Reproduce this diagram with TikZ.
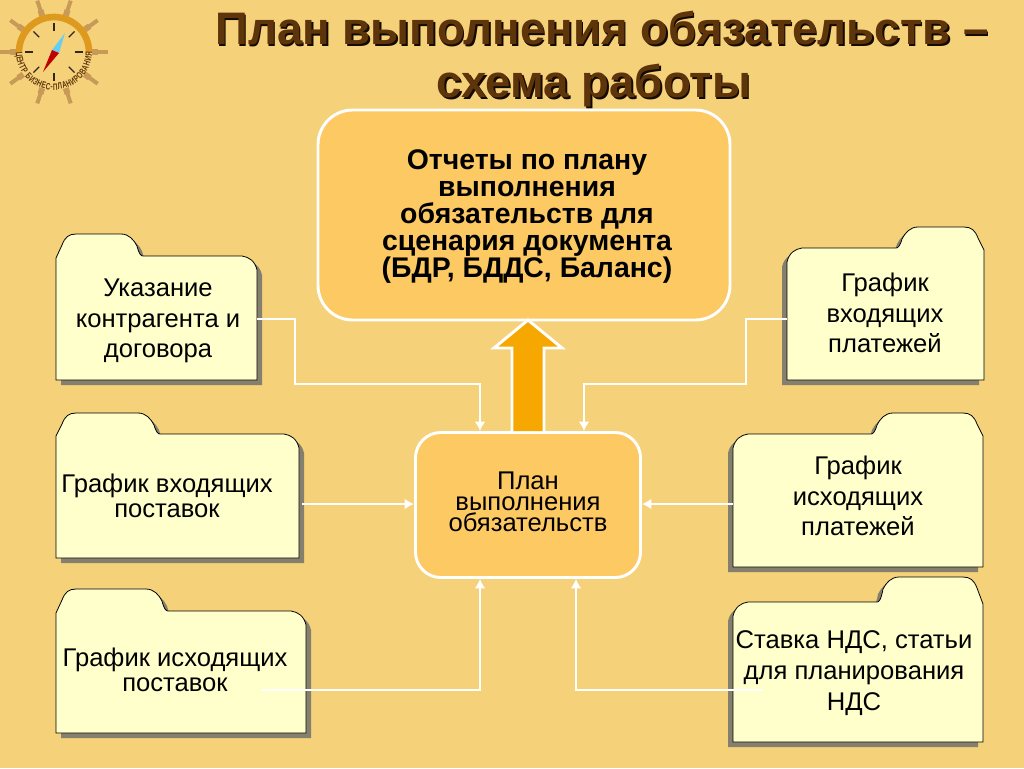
\documentclass[tikz,border=0pt]{standalone}
\usepackage{fontspec}
\setmainfont{Liberation Sans}
\newfontfamily\logofont[FakeStretch=0.68]{Liberation Sans Bold}
\usetikzlibrary{arrows.meta,fit,decorations.text}
\definecolor{mybg}{HTML}{F5D27A}
\definecolor{mybox}{HTML}{FDC963}
\definecolor{myfolder}{HTML}{FFFFCC}
\definecolor{myshadow}{HTML}{85806E}
\definecolor{myorange}{HTML}{F6A800}
\definecolor{mybrown}{HTML}{5E340B}
\definecolor{myring}{HTML}{DE9A1E}
\definecolor{myspoke}{HTML}{C79A57}

% folder with its tab on the left: name, left, tab top, body top, right, bottom, tab width
\newcommand{\folderleft}[7]{
  \def\folderpath{(#2,#4+2) -- (#2+6,#3+11) .. controls (#2+9,#3+3) and (#2+13,#3) .. (#2+20,#3)
    -- (#2+#7-22,#3) .. controls (#2+#7-14,#3) and (#2+#7-9,#3+6) .. (#2+#7-6,#3+12)
    .. controls (#2+#7-4,#4-2) and (#2+#7-2,#4) .. (#2+#7,#4)
    -- (#5-15,#4) .. controls (#5-8,#4+1) and (#5-2,#4+5) .. (#5,#4+14) -- (#5,#6) -- (#2,#6) -- cycle}
  \fill [folder shadow] [shift={(5,5)}] \folderpath;
  \draw [folder] \folderpath;
  \node (#1) [fit={(#2,#4) (#5,#6)},inner sep=0pt] {};
}
% the same folder with its tab on the right
\newcommand{\folderright}[7]{
  \def\folderpath{(#5,#4+2) -- (#5-6,#3+11) .. controls (#5-9,#3+3) and (#5-13,#3) .. (#5-20,#3)
    -- (#5-#7+22,#3) .. controls (#5-#7+14,#3) and (#5-#7+9,#3+6) .. (#5-#7+6,#3+12)
    .. controls (#5-#7+4,#4-2) and (#5-#7+2,#4) .. (#5-#7,#4)
    -- (#2+15,#4) .. controls (#2+8,#4+1) and (#2+2,#4+5) .. (#2,#4+14) -- (#2,#6) -- (#5,#6) -- cycle}
  \fill [folder shadow] [shift={(-5,5)}] \folderpath;
  \draw [folder] \folderpath;
  \node (#1) [fit={(#2,#4) (#5,#6)},inner sep=0pt] {};
}

\begin{document}
\begin{tikzpicture}[
    x=0.75pt,y=-0.75pt,
    folder/.style={fill=myfolder,draw=black,line width=0.6pt},
    folder shadow/.style={fill=myshadow},
    folder text/.style={font=\fontsize{19.2}{23}\selectfont,align=center,inner sep=0pt,text=black},
    box/.style={fill=mybox,draw=white,line width=2.2pt,rounded corners=26pt,inner sep=0pt},
    link/.style={draw=white,line width=2.2pt,-{Latex[length=7pt,width=8pt]}},
    title/.style={font=\fontsize{34.2}{42}\selectfont\bfseries,inner sep=0pt}
]
\useasboundingbox [fill=mybg] (0,0) rectangle (1024,768);

% logo
\begin{scope}[shift={(54,52)}]
\foreach \a in {0,36,...,324} {
    \draw [myspoke,line width=3pt] (\a:40) -- (\a:54);
    \draw [myspoke,line width=4.5pt] (\a:38) -- (\a:44);
}
\foreach \a in {0,45,...,315} \draw [black!75!myspoke,line width=0.9pt] (\a:21) -- (\a:29);
\draw [myring,line width=5pt] (180:35) arc [start angle=180,end angle=360,radius=35];
\fill [cyan!60!white] (11,-19) -- (-2,-2) -- (5,1) -- cycle;
\fill [red!75!black] (-11,20) -- (-2,-2) -- (5,1) -- cycle;
\end{scope}
\begin{scope}[shift={(54,52)},y=0.75pt]
\path [decorate,decoration={text along path,text align=fit to path,
    text={|\logofont\fontsize{7}{8}\selectfont\color{mybrown}|ЦЕНТР БИЗНЕС-ПЛАНИРОВАНИЯ}}]
    (180:38) arc [start angle=180,end angle=360,radius=38];
\end{scope}

% title
\node (shadow1) [title,text=black!80!mybrown] at (603.5,29.5) {План выполнения обязательств –};
\node (shadow2) [title,text=black!80!mybrown] at (595.5,87.5) {схема работы};
\node (title1) [title,text=mybrown] at (602,28) {План выполнения обязательств –};
\node (title2) [title,text=mybrown] at (594,86) {схема работы};

% folders
\folderleft{contract}{56}{234}{256}{257}{380}{87}
\folderleft{supplyin}{56}{413}{434}{299}{558}{104}
\folderleft{supplyout}{56}{589}{611}{306}{733}{112}
\folderright{payin}{787}{227}{248}{984}{380}{88}
\folderright{payout}{733}{413}{434}{983}{567}{112}
\folderright{vat}{733}{577}{602}{983}{742}{106}

% main boxes
\node (report) [box,minimum width=309pt,minimum height=157.5pt] at (524,215) {};
\node (reporttext) [align=center,inner sep=0pt,font=\fontsize{21.3}{20.25}\selectfont\bfseries] at (527,217)
    {Отчеты по плану\\выполнения\\обязательств для\\сценария документа\\(БДР, БДДС, Баланс)};
\node (plan) [box,minimum width=168.75pt,minimum height=108.75pt,rounded corners=19pt] at (528,505) {};
\node (plantext) [align=center,inner sep=0pt,font=\fontsize{19.2}{15.75}\selectfont] at (528,502)
    {План\\выполнения\\обязательств};

% big arrow
\draw [fill=myorange,draw=white,line width=2.2pt] (plan.north -| 512,0) -- (512,348) -- (494,348) -- (528,320) -- (562,348) -- (544,348) -- (plan.north -| 544,0);

% connectors
\coordinate (bend1) at (295,319);
\coordinate (bend2) at (480,384);
\draw [link] (contract.east |- bend1) -- (bend1) |- (bend2) -- (bend2 |- plan.north);
\coordinate (bend3) at (746,319);
\coordinate (bend4) at (584,384);
\draw [link] (payin.west |- bend3) -- (bend3) |- (bend4) -- (bend4 |- plan.north);
\coordinate (start1) at (302,504);
\draw [link] (start1) -- (start1 -| plan.west);
\draw [link] (payout.west |- start1) -- (start1 -| plan.east);
\coordinate (start2) at (262,690);
\coordinate (bend5) at (480,690);
\draw [link] (start2) -- (bend5) -- (bend5 |- plan.south);
\coordinate (start3) at (762,690);
\coordinate (bend6) at (576,690);
\draw [link] (start3) -- (bend6) -- (bend6 |- plan.south);

% folder labels
\node (contracttext) [folder text] at (158,321) {Указание\\контрагента и\\договора};
\node (supplyintext) [folder text,font=\fontsize{19.2}{19}\selectfont] at (167,496) {График входящих\\поставок};
\node (supplyouttext) [folder text,font=\fontsize{19.2}{19}\selectfont] at (175,670) {График исходящих\\поставок};
\node (payintext) [folder text] at (885,313) {График\\входящих\\платежей};
\node (payouttext) [folder text] at (858,496) {График\\исходящих\\платежей};
\node (vattext) [folder text] at (854,673) {Ставка НДС, статьи\\для планирования\\НДС};
\end{tikzpicture}
\end{document}
